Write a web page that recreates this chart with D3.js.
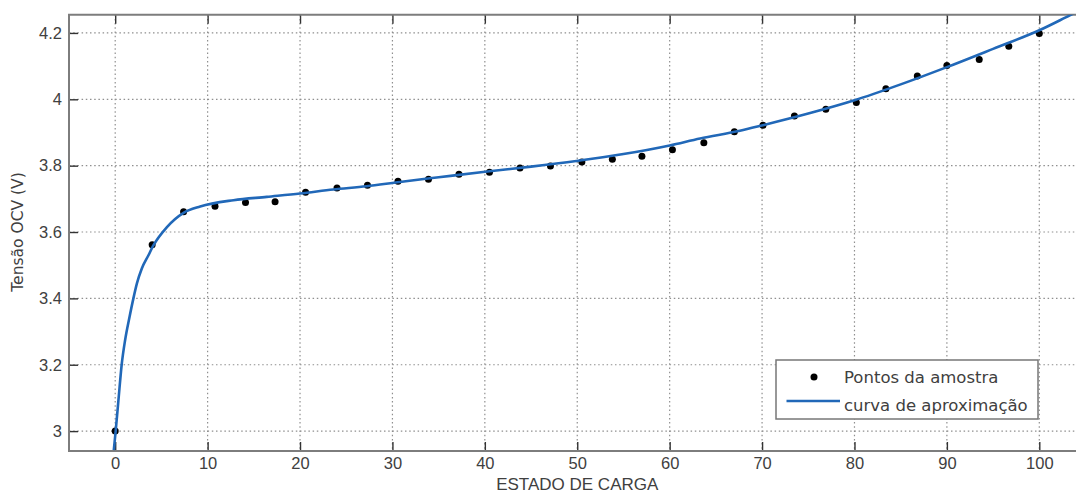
<!DOCTYPE html>
<html>
<head>
<meta charset="utf-8">
<script src="https://cdn.jsdelivr.net/npm/d3@7"></script>
<style>
  html, body { margin: 0; padding: 0; background: #fff; }
  svg { display: block; }
</style>
</head>
<body>
<svg id="chart" width="1076" height="497"></svg>
<script>
// ---- data ----
const xTicks = [0, 10, 20, 30, 40, 50, 60, 70, 80, 90, 100];
const yTicks = [3, 3.2, 3.4, 3.6, 3.8, 4, 4.2];
const yTickLabels = ["3", "3.2", "3.4", "3.6", "3.8", "4", "4.2"];

const sampleSOC = [0, 4.0, 7.4, 10.8, 14.1, 17.3, 20.6, 24.0, 27.3, 30.6, 33.9, 37.2, 40.5, 43.8, 47.1,
  50.5, 53.8, 57.0, 60.3, 63.7, 67.0, 70.1, 73.5, 76.9, 80.2, 83.4, 86.8, 90.0, 93.5, 96.7, 100];
const sampleOCV = [3.0, 3.562, 3.661, 3.678, 3.689, 3.691, 3.720, 3.733, 3.741, 3.753, 3.759, 3.774, 3.780, 3.793, 3.799,
  3.811, 3.819, 3.828, 3.848, 3.869, 3.902, 3.922, 3.950, 3.970, 3.990, 4.032, 4.070, 4.102, 4.120, 4.160, 4.198];

const curveSOC = [-0.15, 0.05, 0.35, 0.7, 1.07, 1.55, 1.97, 2.35, 2.88, 3.6, 4.1, 5.6, 7.4, 9.2, 12.8, 16.4, 20.0, 23.6, 27.2, 30.8,
  35.0, 39.8, 45.0, 49.9, 55.0, 60.0, 63.3, 67.6, 70.1, 75.0, 80.0, 85.0, 90.0, 95.0, 100.0, 103.3, 106];
const curveOCV = [2.943, 3.0, 3.093, 3.2, 3.274, 3.344, 3.4, 3.445, 3.49, 3.53, 3.558, 3.615, 3.658, 3.677, 3.696, 3.706, 3.716, 3.728, 3.738, 3.751,
  3.765, 3.781, 3.797, 3.814, 3.835, 3.861, 3.882, 3.905, 3.922, 3.957, 3.997, 4.045, 4.097, 4.152, 4.208, 4.253, 4.29];

const legendLabels = ["Pontos da amostra", "curva de aproximação"];
const xLabel = "ESTADO DE CARGA";
const yLabel = "Tensão OCV (V)";

// ---- layout ----
const svg = d3.select("#chart");
const pLeft = 69, pRight = 1085.5, pTop = 14.7, pBottom = 451;
const x = d3.scaleLinear().domain([-5, 105]).range([pLeft, pRight]);
const y = d3.scaleLinear().domain([2.94, 4.255]).range([pBottom, pTop]);

const textColor = "#404040";
const gridColor = "#8f8f8f";

svg.append("defs").append("clipPath").attr("id", "plotclip")
  .append("rect").attr("x", pLeft).attr("y", pTop).attr("width", pRight - pLeft).attr("height", pBottom - pTop);

// grid
const grid = svg.append("g");
grid.selectAll("line.vx").data(xTicks).join("line").attr("class", "vx")
  .attr("x1", d => x(d)).attr("x2", d => x(d))
  .attr("y1", pTop).attr("y2", pBottom)
  .attr("stroke", gridColor).attr("stroke-width", 1.2).attr("stroke-dasharray", "1.5,2.7");
grid.selectAll("line.hy").data(yTicks).join("line").attr("class", "hy")
  .attr("x1", pLeft).attr("x2", pRight)
  .attr("y1", d => y(d)).attr("y2", d => y(d))
  .attr("stroke", gridColor).attr("stroke-width", 1.2).attr("stroke-dasharray", "1.5,2.7");

// axes with inward ticks
const tickLen = 9;
const xAxisBottom = d3.axisBottom(x).tickValues(xTicks).tickSizeInner(-tickLen).tickSizeOuter(0).tickPadding(6)
  .tickFormat(d => String(d));
const gxb = svg.append("g").attr("transform", `translate(0,${pBottom})`).call(xAxisBottom);
gxb.select(".domain").remove();

const xAxisTop = d3.axisTop(x).tickValues(xTicks).tickSizeInner(-tickLen).tickSizeOuter(0).tickFormat("");
const gxt = svg.append("g").attr("transform", `translate(0,${pTop})`).call(xAxisTop);
gxt.select(".domain").remove();

const yAxis = d3.axisLeft(y).tickValues(yTicks).tickSizeInner(-tickLen).tickSizeOuter(0).tickPadding(7)
  .tickFormat((d, i) => yTickLabels[i]);
const gy = svg.append("g").attr("transform", `translate(${pLeft},0)`).call(yAxis);
gy.select(".domain").remove();

svg.selectAll(".tick line").attr("stroke", "#333").attr("stroke-width", 1.4);
svg.selectAll(".tick text")
  .attr("fill", textColor)
  .style("font-family", "'Liberation Sans', Arial, sans-serif")
  .style("font-size", "16.5px");

// frame (left, bottom, top)
svg.append("path")
  .attr("d", `M${pRight},${pTop}H${pLeft}V${pBottom}H${pRight}`)
  .attr("fill", "none").attr("stroke", "#7d7d7d").attr("stroke-width", 2);

// data
const plot = svg.append("g").attr("clip-path", "url(#plotclip)");
const samples = sampleSOC.map((s, i) => ({ s, v: sampleOCV[i] }));
plot.selectAll("circle").data(samples).join("circle")
  .attr("cx", d => x(d.s)).attr("cy", d => y(d.v)).attr("r", 3.5).attr("fill", "#000");

const curve = curveSOC.map((s, i) => ({ s, v: curveOCV[i] }));
const line = d3.line().x(d => x(d.s)).y(d => y(d.v)).curve(d3.curveMonotoneX);
plot.append("path").datum(curve)
  .attr("d", line).attr("fill", "none").attr("stroke", "#2168b8").attr("stroke-width", 2.6)
  .attr("stroke-linejoin", "round");

// axis labels
svg.append("text")
  .attr("x", x(50)).attr("y", 490)
  .attr("text-anchor", "middle")
  .attr("fill", textColor)
  .style("font-family", "'Liberation Sans', Arial, sans-serif")
  .style("font-size", "17px")
  .text(xLabel);

svg.append("text")
  .attr("transform", `translate(23,${232}) rotate(-90)`)
  .attr("text-anchor", "middle")
  .attr("fill", textColor)
  .style("font-family", "'DejaVu Sans', sans-serif")
  .style("font-size", "15.5px")
  .text(yLabel);

// legend
const lg = svg.append("g").attr("transform", "translate(776,360)");
lg.append("rect").attr("width", 262).attr("height", 59)
  .attr("fill", "#fff").attr("stroke", "#777").attr("stroke-width", 1.5);
lg.append("circle").attr("cx", 38).attr("cy", 17).attr("r", 3.5).attr("fill", "#000");
lg.append("line").attr("x1", 10.5).attr("x2", 64).attr("y1", 41).attr("y2", 41)
  .attr("stroke", "#2168b8").attr("stroke-width", 2.6);
lg.selectAll("text.lt").data(legendLabels).join("text").attr("class", "lt")
  .attr("x", 68).attr("y", (d, i) => 23 + i * 27.5)
  .attr("fill", textColor)
  .style("font-family", "'DejaVu Sans', sans-serif")
  .style("font-size", "16.5px")
  .text(d => d);
</script>
</body>
</html>
